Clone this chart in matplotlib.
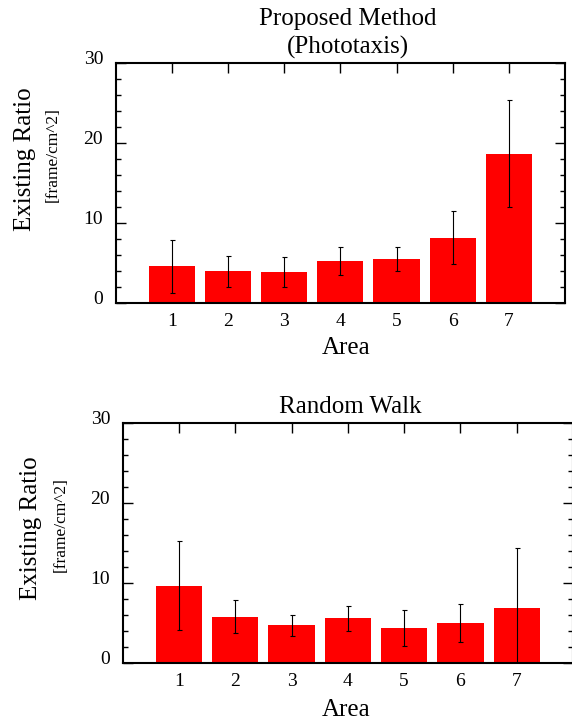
import matplotlib

matplotlib.use("Agg")

import matplotlib.pyplot as plt
import matplotlib.transforms as mtransforms
from matplotlib.ticker import MultipleLocator

plt.rcParams["font.family"] = ["Liberation Serif", "DejaVu Serif"]

areas = [1, 2, 3, 4, 5, 6, 7]

phototaxis_mean = [4.6, 3.95, 3.9, 5.3, 5.5, 8.15, 18.65]
phototaxis_err = [3.3, 1.95, 1.9, 1.75, 1.55, 3.3, 6.7]

random_walk_mean = [9.7, 5.8, 4.75, 5.6, 4.4, 5.05, 6.85]
random_walk_err = [5.55, 2.05, 1.3, 1.6, 2.3, 2.4, 7.55]

W, H = 572, 722


def px_axes(left, top, right, bottom):
    return [left / W, 1 - bottom / H, (right - left) / W, (bottom - top) / H]


def style_axes(ax):
    ax.set_xlim(0, 8)
    ax.set_ylim(0, 30)
    ax.set_xticks(areas)
    ax.set_yticks([0, 10, 20, 30])
    ax.yaxis.set_minor_locator(MultipleLocator(2))
    ax.tick_params(axis="both", which="both", direction="in", top=True, right=True, width=1.0)
    ax.tick_params(axis="both", which="major", length=7.5, labelsize=14)
    ax.tick_params(axis="y", which="minor", length=3.8)
    ax.tick_params(axis="y", which="major", pad=9)
    ax.tick_params(axis="x", which="major", pad=7)
    ax.set_axisbelow(True)
    for spine in ax.spines.values():
        spine.set_linewidth(1.5)
    shift = mtransforms.ScaledTranslation(0, 4 / 72, ax.figure.dpi_scale_trans)
    for label in ax.get_yticklabels():
        label.set_transform(label.get_transform() + shift)


def draw_panel(ax, means, errs):
    ax.bar(areas, means, width=0.82, color="#ff0000", edgecolor="none", zorder=1)
    ax.errorbar(areas, means, yerr=errs, fmt="none", ecolor="black",
                elinewidth=0.8, capsize=1.8, capthick=0.8, zorder=3)
    style_axes(ax)


fig = plt.figure(figsize=(W / 100, H / 100), dpi=100)

ax_top = fig.add_axes(px_axes(115.7, 62.7, 565, 303))
draw_panel(ax_top, phototaxis_mean, phototaxis_err)
ax_top.text(-0.202, 0.599, "Existing Ratio", transform=ax_top.transAxes, rotation=90,
            ha="center", va="center", fontsize=18)
ax_top.text(-0.14, 0.616, "[frame/cm^2]", transform=ax_top.transAxes, rotation=90,
            ha="center", va="center", fontsize=12.5)
fig.text(348 / W, 1 - 33.5 / H, "Proposed Method\n(Phototaxis)", ha="center", va="center",
         fontsize=18, linespacing=1.3)
fig.text(346 / W, 1 - 348 / H, "Area", ha="center", va="center", fontsize=18)

ax_bot = fig.add_axes(px_axes(122.7, 422.7, 573, 663.3))
draw_panel(ax_bot, random_walk_mean, random_walk_err)
ax_bot.text(-0.203, 0.562, "Existing Ratio", transform=ax_bot.transAxes, rotation=90,
            ha="center", va="center", fontsize=18)
ax_bot.text(-0.137, 0.577, "[frame/cm^2]", transform=ax_bot.transAxes, rotation=90,
            ha="center", va="center", fontsize=12.5)
fig.text(350 / W, 1 - 407 / H, "Random Walk", ha="center", va="center", fontsize=18)
fig.text(346 / W, 1 - 710 / H, "Area", ha="center", va="center", fontsize=18)

fig.savefig("out.png", dpi=100)
